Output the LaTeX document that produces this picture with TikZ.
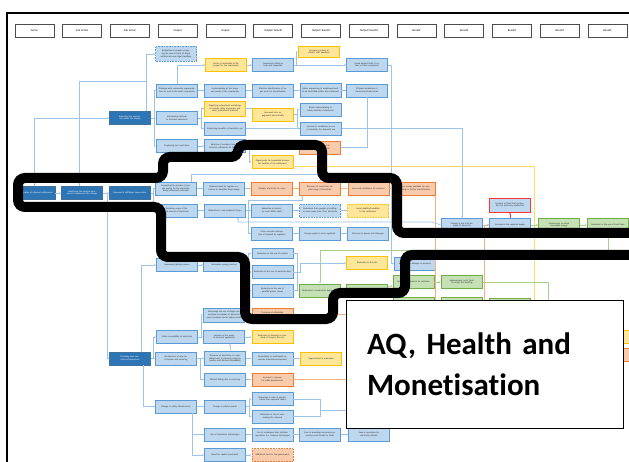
\documentclass[tikz,border=0pt]{standalone}
\usepackage{fontspec}
\setmainfont{Carlito}[Ligatures=NoCommon]
\newfontfamily\labelfont{Carlito}[Ligatures=NoCommon,WordSpace=0.75]
\usetikzlibrary{arrows.meta}
\definecolor{actfill}{HTML}{2E75B6}
\definecolor{actline}{HTML}{41719C}
\definecolor{bluefill}{HTML}{BDD7EE}
\definecolor{blueline}{HTML}{5B9BD5}
\definecolor{yelfill}{HTML}{FFE699}
\definecolor{yelline}{HTML}{FFC000}
\definecolor{orgfill}{HTML}{F8CBAD}
\definecolor{orgline}{HTML}{ED7D31}
\definecolor{grnfill}{HTML}{C5E0B4}
\definecolor{grnline}{HTML}{70AD47}
\definecolor{linkblue}{HTML}{9DC3E6}
\definecolor{linkyel}{HTML}{FFD966}
\definecolor{linkorg}{HTML}{F4B183}
\definecolor{linkgrn}{HTML}{A9D18E}

\begin{document}
\begin{tikzpicture}[x=1pt,y=-1pt,>={Stealth[length=2.2pt,width=1.8pt]}]
    \tikzstyle{box}=[rectangle,draw,line width=0.6pt,minimum width=41pt,minimum height=13pt,
        text width=37pt,inner sep=0.5pt,align=center,text=black!80,font=\fontsize{2.3}{2.7}\selectfont]
    \tikzstyle{head}=[rectangle,draw=black!70,line width=0.6pt,fill=white,minimum width=39pt,
        minimum height=13pt,font=\fontsize{2.8}{3.2}\selectfont]
    \tikzstyle{act}=[box,fill=actfill,draw=actline,text=white]
    \tikzstyle{blu}=[box,fill=bluefill,draw=blueline]
    \tikzstyle{yel}=[box,fill=yelfill,draw=yelline]
    \tikzstyle{org}=[box,fill=orgfill,draw=orgline]
    \tikzstyle{grn}=[box,fill=grnfill,draw=grnline]
    \tikzstyle{redb}=[box,fill=bluefill,draw=red!80]
    \tikzstyle{link}=[->,draw=linkblue,line width=0.6pt]
    \tikzstyle{ylink}=[link,draw=linkyel]
    \tikzstyle{olink}=[link,draw=linkorg]
    \tikzstyle{glink}=[link,draw=linkgrn]

    \clip (0,0) rectangle (629,462);
    \fill[white] (0,0) rectangle (629,462);
    \draw[line width=1.6pt] (7,13) rectangle (660,500);

    % Draw the header row
    \foreach \i/\lab in {0/Action,1/Sub Action,2/Sub Action,3/Output,4/Output,5/{Output/ benefit},
        6/{Output/ benefit},7/{Output/ benefit},8/Benefit,9/Benefit,10/Benefit,11/Benefit,12/Benefit}
        \node[head] (head-\i) at (34.5+47.75*\i,30.5) {\lab};

    % Draw the actions
    \node[act] (form) at (34.5,193) {Formalisation of informal settlements};
    \node[act] (ident) at (82,193) {Identifying the optimal measures to implement the change};
    \node[act] (removal) at (130,193) {Removal of old/illegal connections};
    \node[act] (educ) at (130,118) {Educating the community about the change};
    \node[act] (provide) at (130,358.5) {Providing new electricity infrastructure};

    % Draw the sub actions
    \node[blu,densely dotted,minimum height=15pt] (relocate) at (176,54) {Relocation of people occupying the area in front of illegal settlements near legal dwellings};
    \node[blu] (dialog) at (177,90.5) {Dialogue with community representatives as well as the wider community};
    \node[blu] (aware) at (177,118) {Introducing methods to increase awareness};
    \node[blu] (employ) at (177,146) {Employing local workforce};
    \node[blu] (paying) at (176,188.5) {Increasing the number of people paying for the electricity being consumed nationally};
    \node[blu] (illegal) at (177,210.5) {Reducing usage of illegal sources of electricity};
    \node[blu] (lighting) at (177,265) {Improving lighting sources};
    \node[blu] (wider) at (177,337) {Wider accessibility to electricity};
    \node[blu] (tariff) at (176,358.5) {Introduction of new tariff system and metering};
    \node[blu] (utility) at (176,406.5) {Change in utility infrastructure};

    \node[yel] (owner) at (226,65) {Sense of ownership of the project for the community};
    \node[blu] (needs) at (225,90.5) {Understanding of the issues and needs of the community};
    \node[yel,minimum height=15pt] (workshop) at (225,108.5) {Organising educational workshops to include safety awareness and other promotional material};
    \node[blu] (advert) at (225,128.5) {Advertising benefits of electricity use};
    \node[blu] (rotate) at (225,146) {Rotation of workers from the informal settlement for the tasks};
    \node[blu] (subsid) at (224,188.5) {Reduced need for regular customers to subsidise illegal usage};
    \node[blu] (losses) at (225,210.5) {Reduction in `non-technical' losses};
    \node[blu] (altsrc) at (224,265) {Alternative energy sources};
    \node[blu,minimum height=14pt] (discour) at (224,315) {Discourage the use of illegal connections as number of electricity users increases and at higher prices};
    \node[blu] (applian) at (224,337) {Increase in the usage of electrical appliances};
    \node[blu,minimum height=14pt] (provis) at (225,358.5) {Provision of electricity at a subsidised cost to promote usage by families with limited affordability};
    \node[blu] (billing) at (225,379.5) {Efficient billing due to metering};
    \node[blu] (hazard) at (225,406.5) {Change in safety hazards};
    \node[blu] (innov) at (225,434.5) {Use of innovative technologies};
    \node[blu] (capital) at (225,455) {Need for capital investment};

    % Draw the outputs and benefits
    \node[blu] (willing) at (273,65) {Community willing to help and cooperate};
    \node[blu] (target) at (273,90.5) {Effective identification of target areas for electrification};
    \node[yel] (civic) at (273,114.5) {Increased civic engagement and sociality};
    \node[yel] (income) at (272.5,162) {Opportunity for household income for families of the settlement};
    \node[org] (cheap) at (272,188.5) {Cheaper electricity for users};
    \node[blu] (theft) at (272,210.5) {Reduction in electricity and utilities theft};
    \node[blu] (anticip) at (272,233.5) {More accurate anticipation of demand by suppliers};
    \node[blu,minimum height=10pt] (candle) at (272.5,253.5) {Reduction in the use of candles};
    \node[blu] (wood) at (272.5,272) {Reduction in the use of wood burning};
    \node[blu] (paraff) at (272.5,290.5) {Reduction in the use of paraffin/primer stoves};
    \node[org] (afford) at (272.5,314.5) {Provision of affordable power for households};
    \node[yel] (disparity) at (272.5,337) {Reduction in disparity in standard of living in the city};
    \node[blu] (media) at (272.5,358.5) {Accessibility to multimedia resources (television/computers)};
    \node[org] (revenue) at (272.5,379.5) {Increase in revenue for utility departments};
    \node[blu] (electro) at (272.5,399) {Reduction in risks of electrocution from exposed cables};
    \node[blu] (overload) at (272.5,416.5) {Reduction in risk of overloading the network};
    \node[blu] (techniq) at (272.5,434.5) {Use of techniques that facilitate operations (i.e. livewire techniques)};
    \node[org,densely dotted] (addcost) at (272.5,455) {Additional cost for the government};

    \node[yel,minimum height=11pt] (staff) at (319,52) {Increase in safety of electric staff (workers)};
    \node[blu,minimum height=14pt] (sequence) at (320.5,90.5) {Better sequencing of neighbourhoods to be electrified within the settlement};
    \node[blu] (safety) at (320.5,109.5) {Better understanding of safety hazards of electricity};
    \node[blu] (confid) at (321,128.5) {Increase in confidence in use of electricity for domestic use};
    \node[org] (instcost) at (320,147.5) {Reduction of electricity installation costs};
    \node[org] (recover) at (320,188.5) {Recovery of costs from unpaid usage of electricity};
    \node[blu,densely dotted] (free) at (320,210.5) {Resistance from people not willing to move away from `free' electricity};
    \node[blu] (regul) at (320,233.5) {Energy supply is more regulated};
    \node[grn] (combust) at (320,290.5) {Reduction in combustion byproducts};
    \node[yel] (educop) at (321,358.5) {Opportunity for education};
    \node[blu] (ease) at (320,434.5) {Ease in providing/removing connections and checks for faults};

    \node[blu] (guard) at (367,65) {Guard against theft of cables or other equipment};
    \node[blu] (install) at (367,90.5) {Efficient installation of electricity infrastructure};
    \node[org] (invest) at (368.5,188.5) {Increased confidence for investors};
    \node[yel,densely dotted] (stable) at (368,210.5) {Social stability/liveability in the settlement};
    \node[blu] (powercut) at (368,233.5) {Decrease in power cuts/damages};
    \node[yel] (fire) at (367,263) {Reduction in fire risk};
    \node[grn] (harmful) at (367,290.5) {Reduction of harmful emissions};
    \node[blu] (easeop) at (369,434.5) {Ease in operation for electricity officials};

    \node[org] (money) at (415,188.5) {More money available for reinvesting in further electrification};
    \node[blu] (blue9) at (415,263.5) {Reduction in damage to property};
    \node[grn] (airpol) at (413.5,282) {Reduction in internal air pollution};
    \node[grn] (g9) at (413.5,304) {};
    \node[blu] (demand) at (462,225) {Change in the total demand of electricity};
    \node[grn] (aq) at (462,282) {Improvement in Air Quality inside the dwelling};
    \node[grn] (g10) at (462,304) {};
    \node[redb,minimum height=14pt] (fossilc) at (510,205) {Increase in fossil fuel combustion for electricity production};
    \node[blu] (supply) at (510,225) {Increase in the required supply};
    \node[grn] (g11) at (510,304.5) {};
    \node[grn] (renew) at (559,225) {Opportunity to adopt renewable energy};
    \node[grn] (fossil) at (608,225) {Reduction in the use of fossil fuels};
    \node[yel,minimum width=44pt] (yedge) at (645,336.5) {};
    \node[org,minimum width=44pt] (oedge) at (645,355) {};

    \coordinate (join-top) at (146,81);
    \coordinate (join-lit) at (297,290.5);
    \coordinate (join-hz) at (320,410);
    \coordinate (end-hz) at (350,410);
    \coordinate (end-yel) at (534,320);
    \coordinate (end-grn) at (548,320);

    % Connect the actions
    \draw[link] (form) -- (ident);
    \draw[link] (ident) -- (removal);
    \draw[link] (form.north) |- (educ.west);
    \draw[link,-] ([xshift=-3pt]ident.north) |- (join-top);
    \draw[link] ([xshift=16pt]educ.north) |- (relocate.west);
    \draw[link] (ident.east) -- ++(4,0) |- (provide.west);
    \foreach \dest in {dialog,aware,employ}
        \draw[link] (educ.east) -- ++(3,0) |- (\dest.west);
    \foreach \dest in {paying,illegal}
        \draw[link] (removal.east) -- ++(2,0) |- (\dest.west);
    \draw[link] ([xshift=11pt]provide.north) |- (lighting.west);
    \draw[link] (provide) -- (tariff);
    \draw[link] (provide.east) -- ++(2,0) |- (wider.west);
    \draw[link] ([xshift=13pt]provide.south) |- (utility.west);

    % Community strand
    \draw[link] (dialog.north) |- (owner.west);
    \draw[link] (dialog) -- (needs);
    \draw[link] (needs) -- (target);
    \draw[link] (target) -- (sequence);
    \draw[link] (sequence) -- (install);
    \draw[link] (install.south) |- (instcost.east);
    \draw[link] (owner) -- (willing);
    \draw[link] (willing) -- (guard);
    \draw[link] (willing.east) -- ++(2,0) |- (staff.west);
    \draw[link] (guard.east) -- ++(3,0) |- (blue9.west);
    \foreach \dest in {workshop,advert}
        \draw[link] (aware.east) -- ++(3,0) |- (\dest.west);
    \draw[link] (workshop.east) -- (workshop.east -| civic.west);
    \foreach \dest in {safety,confid}
        \draw[link] (civic.east) -- ++(3,0) |- (\dest.west);
    \draw[link] (advert) -- (confid);
    \draw[link] (confid.east) -| (demand.north);
    \draw[link] (employ) -- (rotate);
    \draw[link] (rotate.east) -- ++(3,0) |- (income.west);
    \draw[ylink,-] ([yshift=-4pt]income.east) -| (end-yel);

    % Connections strand
    \draw[link] (paying) -- (subsid);
    \draw[link] (subsid) -- (cheap);
    \draw[olink] (cheap) -- (recover);
    \draw[olink] (recover) -- (invest);
    \draw[olink] (invest) -- (money);
    \draw[link] ([xshift=15pt]paying.north) -- ++(0,-7) -| (recover.north);
    \draw[link] (illegal) -- (losses);
    \draw[link] (losses) -- (theft);
    \draw[link] (theft) -- (free);
    \draw[link] (free) -- (stable);
    \draw[link] (losses.east) -- ++(2,0) -- ++(0,-10) -| ([xshift=-18pt]recover.south);
    \draw[link] (losses.east) -- ++(2,0) |- (anticip.west);
    \draw[link] (demand.west) -- ++(-10,-3) -| ([xshift=13pt]losses.south);
    \draw[link] (anticip) -- (regul);
    \draw[link] (regul) -- (powercut);
    \draw[link] (demand) -- (supply);
    \draw[glink] (supply) -- (renew);
    \draw[glink] (renew) -- (fossil);
    \draw[->,draw=red!80,line width=0.6pt] (supply) -- (fossilc);
    \draw[glink] (fossil.south) -- ++(0,18.5) -| (combust.north);

    % Lighting strand
    \draw[link] (lighting) -- (altsrc);
    \foreach \dest in {candle,wood,paraff}
        \draw[link] (altsrc.east) -- ++(3,0) |- (\dest.west);
    \draw[link,-] (candle.east) -| (join-lit);
    \draw[link,-] (wood.east) -| (join-lit);
    \draw[link] (paraff) -- (combust);
    \draw[link] (wood.east) -- ++(7,0) |- (fire.west);
    \draw[glink] (combust) -- (harmful);
    \draw[glink] (harmful) -- (airpol);
    \draw[glink] (airpol) -- (aq);
    \draw[glink,-] (aq.east) -| (end-grn);

    % Infrastructure strand
    \foreach \dest in {discour,applian}
        \draw[link] (wider.east) -- ++(3,0) |- (\dest.west);
    \draw[link] (applian) -- (disparity);
    \foreach \dest in {provis,billing}
        \draw[link] (tariff.east) -- ++(3,0) |- (\dest.west);
    \draw[link] ([xshift=6pt]provis.north) -- ([xshift=6pt]applian.south);
    \draw[link] (provis) -- (media);
    \draw[link] (media) -- (educop);
    \draw[link] (billing) -- (revenue);
    \draw[olink] (revenue.east) -| ([xshift=20pt]money.south);
    \draw[olink] (afford.east) -| ([xshift=-5pt]supply.west) -- (supply.west);
    \draw[link] (utility) -- (hazard);
    \foreach \dest in {electro,overload}
        \draw[link] (hazard.east) -- ++(3,0) |- (\dest.west);
    \draw[link,-] (electro.east) -| (join-hz);
    \draw[link,-] (overload.east) -| (join-hz);
    \draw[link] (join-hz) -- (end-hz);
    \foreach \dest in {innov,capital}
        \draw[link] ([xshift=16pt]utility.south) |- (\dest.west);
    \draw[link] (innov) -- (techniq);
    \draw[link] (techniq) -- (ease);
    \draw[link] (ease) -- (easeop);
    \draw[link] (capital) -- (addcost);

    % Highlight the focus area
    \draw[line width=10pt,rounded corners=7pt] (18,178) -- (163,178) -- (163,157) -- (238,157)
        -- (238,145) -- (322,145) -- (322,178) -- (397,178) -- (397,233) -- (650,233) -- (650,255)
        -- (405,255) -- (405,293) -- (333,293) -- (333,319) -- (245,319) -- (245,257) -- (161,257)
        -- (161,207) -- (18,207) -- cycle;

    \node[draw=black,line width=1.2pt,fill=white,anchor=north west,minimum width=277pt,
        minimum height=128pt,text width=236pt,inner xsep=20pt,align=left,
        font=\fontsize{31}{41}\labelfont\bfseries] (focus) at (346,300) {AQ, Health and\\[0pt]Monetisation\\[-14pt]};
\end{tikzpicture}
\end{document}
